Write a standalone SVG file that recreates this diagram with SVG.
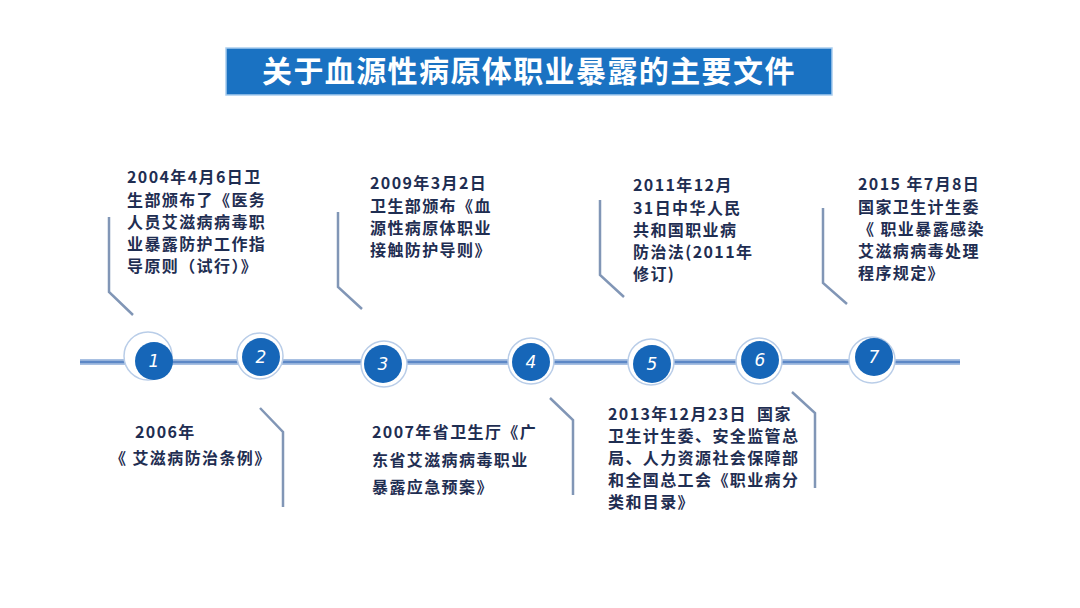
<svg xmlns="http://www.w3.org/2000/svg" width="1080" height="608" viewBox="0 0 1080 608">
<defs>
<style>
.t{font-family:"Noto Sans CJK SC","Noto Sans",sans-serif;font-weight:bold;font-size:16px;letter-spacing:1.4px;fill:#1f2e52}
.title{font-family:"Noto Sans CJK SC","Noto Sans",sans-serif;font-weight:bold;font-size:30px;fill:#ffffff;letter-spacing:1.4px}
.conn{fill:none;stroke:#8196b6;stroke-width:2.5;stroke-linejoin:miter}
.ring{fill:#ffffff;stroke:#b9cde8;stroke-width:1.5}
.dot{fill:#1666b8}
.num{font-family:"DejaVu Sans","Liberation Sans",sans-serif;font-style:italic;font-size:17px;fill:#ffffff;text-anchor:middle}
</style>
</defs>
<rect width="1080" height="608" fill="#ffffff"/>
<g id="title">
<rect x="226" y="48" width="606" height="47" fill="#1a72c2" stroke="#a9cdee" stroke-width="1.5"/>
<text class="title" x="262" y="82">关于血源性病原体职业暴露的主要文件</text>
</g>
<g id="timeline">
<line x1="80" y1="362" x2="960" y2="362" stroke="#a8c0e2" stroke-width="6"/>
<line x1="80" y1="362" x2="960" y2="362" stroke="#5d88c6" stroke-width="2.5"/>
</g>
<g id="connectors">
<polyline class="conn" points="109,217 109,292 133,315"/>
<polyline class="conn" points="338,212 338,287 362,309"/>
<polyline class="conn" points="600,200 600,275 624,297"/>
<polyline class="conn" points="823,208 823,283 847,304"/>
<polyline class="conn" points="260,408 283,432 283,507"/>
<polyline class="conn" points="550,398 573,420 573,495"/>
<polyline class="conn" points="792,392 815,413 815,488"/>
</g>
<g id="n1"><circle class="ring" cx="148" cy="356" r="24"/><circle class="dot" cx="154" cy="361" r="19"/><text class="num" x="154" y="367">1</text></g>
<g id="n2"><circle class="ring" cx="260" cy="356" r="23"/><circle class="dot" cx="261" cy="357" r="19"/><text class="num" x="261" y="363">2</text></g>
<g id="n3"><circle class="ring" cx="384" cy="364" r="23"/><circle class="dot" cx="383" cy="364" r="19"/><text class="num" x="383" y="370">3</text></g>
<g id="n4"><circle class="ring" cx="531" cy="361" r="23"/><circle class="dot" cx="531" cy="362" r="19"/><text class="num" x="531" y="368">4</text></g>
<g id="n5"><circle class="ring" cx="651" cy="362" r="23"/><circle class="dot" cx="652" cy="364" r="19"/><text class="num" x="652" y="370">5</text></g>
<g id="n6"><circle class="ring" cx="759" cy="361" r="23"/><circle class="dot" cx="760" cy="360" r="19"/><text class="num" x="760" y="366">6</text></g>
<g id="n7"><circle class="ring" cx="872" cy="360" r="23"/><circle class="dot" cx="874" cy="357" r="19"/><text class="num" x="874" y="363">7</text></g>
<g id="doc2004">
<text class="t"><tspan x="127" y="183">2004年4月6日卫</tspan><tspan x="127" y="206">生部颁布了《医务</tspan><tspan x="127" y="228">人员艾滋病病毒职</tspan><tspan x="127" y="250">业暴露防护工作指</tspan><tspan x="127" y="272">导原则（试行）》</tspan></text>
</g>
<g id="doc2009">
<text class="t"><tspan x="370" y="189">2009年3月2日</tspan><tspan x="370" y="212">卫生部颁布《血</tspan><tspan x="370" y="234">源性病原体职业</tspan><tspan x="370" y="256">接触防护导则》</tspan></text>
</g>
<g id="doc2011">
<text class="t"><tspan x="633" y="191">2011年12月</tspan><tspan x="633" y="214">31日中华人民</tspan><tspan x="633" y="236">共和国职业病</tspan><tspan x="633" y="258">防治法(2011年</tspan><tspan x="633" y="280">修订)</tspan></text>
</g>
<g id="doc2015">
<text class="t"><tspan x="858" y="190">2015 年7月8日</tspan><tspan x="858" y="213">国家卫生计生委</tspan><tspan x="858" y="235">《 职业暴露感染</tspan><tspan x="858" y="257">艾滋病病毒处理</tspan><tspan x="858" y="279">程序规定》</tspan></text>
</g>
<g id="doc2006">
<text class="t"><tspan x="135" y="438">2006年</tspan><tspan x="110" y="464">《 艾滋病防治条例》</tspan></text>
</g>
<g id="doc2007">
<text class="t"><tspan x="372" y="438">2007年省卫生厅《广</tspan><tspan x="372" y="466">东省艾滋病病毒职业</tspan><tspan x="372" y="493">暴露应急预案》</tspan></text>
</g>
<g id="doc2013">
<text class="t" style="white-space:pre"><tspan x="608" y="420">2013年12月23日  国家</tspan><tspan x="608" y="442">卫生计生委、安全监管总</tspan><tspan x="608" y="464">局、人力资源社会保障部</tspan><tspan x="608" y="486">和全国总工会《职业病分</tspan><tspan x="608" y="508">类和目录》</tspan></text>
</g>
</svg>
